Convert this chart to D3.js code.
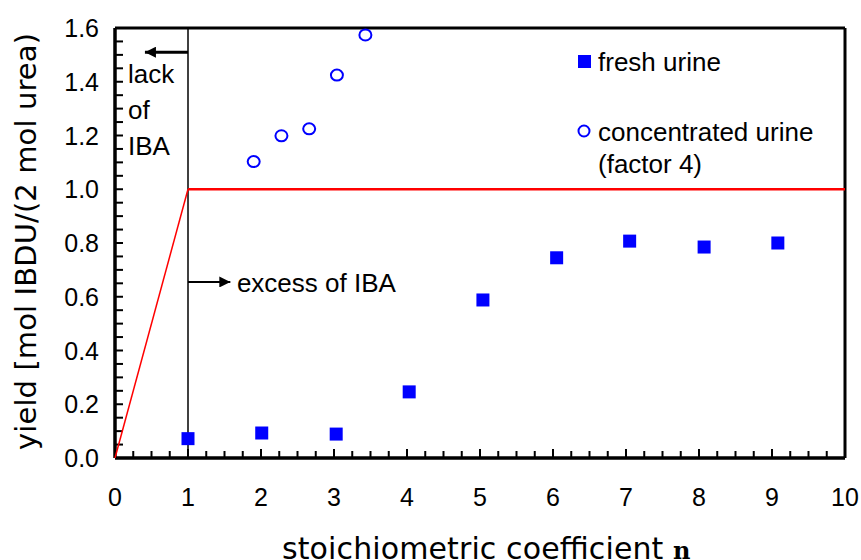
<!DOCTYPE html>
<html>
<head>
<meta charset="utf-8">
<script src="https://cdn.jsdelivr.net/npm/d3@7"></script>
<style>
  body { margin: 0; background: #fff; }
  text { font-family: "Liberation Sans", Arial, sans-serif; fill: #000; }
</style>
</head>
<body>
<div id="chart"></div>
<script>
// fresh urine (filled squares)
const freshN = [1.0, 2.01, 3.03, 4.03, 5.04, 6.05, 7.05, 8.07, 9.08];
const freshYield = [0.072, 0.093, 0.089, 0.246, 0.588, 0.745, 0.807, 0.785, 0.800];
// concentrated urine, factor 4 (open circles)
const concN = [1.9, 2.28, 2.66, 3.04, 3.43];
const concYield = [1.103, 1.199, 1.225, 1.425, 1.574];
// theoretical maximum
const theoN = [0, 1, 10];
const theoYield = [0, 1.0, 1.0];

const xTicks = [0, 1, 2, 3, 4, 5, 6, 7, 8, 9, 10];
const yTicks = [0, 0.2, 0.4, 0.6, 0.8, 1.0, 1.2, 1.4, 1.6];

const W = 861, H = 560;
const margin = { top: 28, right: 16, bottom: 102, left: 115 };
const width = W - margin.left - margin.right;
const height = H - margin.top - margin.bottom;

const svg = d3.select("#chart").append("svg")
  .attr("width", W).attr("height", H);
const g = svg.append("g").attr("transform", `translate(${margin.left},${margin.top})`);

const x = d3.scaleLinear().domain([0, 10]).range([0, width]);
const y = d3.scaleLinear().domain([0, 1.6]).range([height, 0]);

// minor / major ticks pointing inward
const xMinor = d3.range(0, 10.001, 0.25);
g.selectAll("line.xtick").data(xMinor).join("line").attr("class", "xtick")
  .attr("x1", d => x(d)).attr("x2", d => x(d))
  .attr("y1", height).attr("y2", d => Math.abs(d - Math.round(d)) < 1e-6 ? height - 9 : height - 7)
  .attr("stroke", "#000").attr("stroke-width", 2);
const yMinor = d3.range(0, 1.6001, 0.05);
g.selectAll("line.ytick").data(yMinor).join("line").attr("class", "ytick")
  .attr("y1", d => y(d)).attr("y2", d => y(d))
  .attr("x1", 0).attr("x2", 8)
  .attr("stroke", "#000").attr("stroke-width", 2);

// tick labels
g.selectAll("text.xl").data(xTicks).join("text").attr("class", "xl")
  .attr("x", d => x(d)).attr("y", height + 48)
  .attr("text-anchor", "middle").attr("font-size", 25)
  .text(d => d);
g.selectAll("text.yl").data(yTicks).join("text").attr("class", "yl")
  .attr("x", -16).attr("y", d => y(d) + 9)
  .attr("text-anchor", "end").attr("font-size", 25)
  .text(d => d3.format(".1f")(d));

// frame
g.append("line").attr("x1", 0).attr("x2", width).attr("y1", 0).attr("y2", 0)
  .attr("stroke", "#000").attr("stroke-width", 3);
g.append("line").attr("x1", width).attr("x2", width).attr("y1", 0).attr("y2", height)
  .attr("stroke", "#000").attr("stroke-width", 3);
g.append("line").attr("x1", 0).attr("x2", width).attr("y1", height).attr("y2", height)
  .attr("stroke", "#000").attr("stroke-width", 3.5);
g.append("line").attr("x1", 0).attr("x2", 0).attr("y1", 0).attr("y2", height)
  .attr("stroke", "#000").attr("stroke-width", 3.5);

// vertical line at n = 1
g.append("line").attr("x1", x(1)).attr("x2", x(1)).attr("y1", 0).attr("y2", height)
  .attr("stroke", "#000").attr("stroke-width", 1.5);

// red theoretical line
g.append("line")
  .attr("x1", x(theoN[0])).attr("y1", y(theoYield[0]))
  .attr("x2", x(theoN[1])).attr("y2", y(theoYield[1]))
  .attr("stroke", "#ff0000").attr("stroke-width", 1.5);
g.append("line")
  .attr("x1", x(theoN[1])).attr("y1", y(theoYield[1]))
  .attr("x2", x(theoN[2])).attr("y2", y(theoYield[2]))
  .attr("stroke", "#ff0000").attr("stroke-width", 2.5);

// arrows
svg.append("defs").append("marker").attr("id", "ah")
  .attr("viewBox", "0 0 10 10").attr("refX", 10).attr("refY", 5)
  .attr("markerUnits", "userSpaceOnUse")
  .attr("markerWidth", 13).attr("markerHeight", 11).attr("orient", "auto")
  .append("path").attr("d", "M0,0L10,5L0,10z").attr("fill", "#000");
g.append("line").attr("x1", x(1)).attr("x2", x(0.41)).attr("y1", y(1.51)).attr("y2", y(1.51))
  .attr("stroke", "#000").attr("stroke-width", 3).attr("marker-end", "url(#ah)");
g.append("line").attr("x1", x(1)).attr("x2", x(1.58)).attr("y1", y(0.655)).attr("y2", y(0.655))
  .attr("stroke", "#000").attr("stroke-width", 2).attr("marker-end", "url(#ah)");

// annotations
const lack = ["lack", "of", "IBA"];
g.selectAll("text.lack").data(lack).join("text").attr("class", "lack")
  .attr("x", 13).attr("y", (d, i) => 55 + i * 36)
  .attr("font-size", 26).text(d => d);
g.append("text").attr("x", x(1.67)).attr("y", y(0.655) + 10)
  .attr("font-size", 26).text("excess of IBA");

// data
const fresh = freshN.map((n, i) => ({ n, v: freshYield[i] }));
const conc = concN.map((n, i) => ({ n, v: concYield[i] }));
const sq = 13;
g.selectAll("rect.fresh").data(fresh).join("rect").attr("class", "fresh")
  .attr("x", d => x(d.n) - sq / 2).attr("y", d => y(d.v) - sq / 2)
  .attr("width", sq).attr("height", sq).attr("fill", "#0000ff");
g.selectAll("ellipse.conc").data(conc).join("ellipse").attr("class", "conc")
  .attr("cx", d => x(d.n)).attr("cy", d => y(d.v))
  .attr("rx", 6).attr("ry", 5.5)
  .attr("fill", "none").attr("stroke", "#0000ff").attr("stroke-width", 2);

// legend
const lg = svg.append("g");
lg.append("rect").attr("x", 578).attr("y", 55).attr("width", 13).attr("height", 13).attr("fill", "#0000ff");
lg.append("text").attr("x", 598).attr("y", 71).attr("font-size", 26).text("fresh urine");
lg.append("ellipse").attr("cx", 584).attr("cy", 131).attr("rx", 5.5).attr("ry", 5.5)
  .attr("fill", "none").attr("stroke", "#0000ff").attr("stroke-width", 2);
lg.append("text").attr("x", 598).attr("y", 141).attr("font-size", 26).text("concentrated urine");
lg.append("text").attr("x", 598).attr("y", 173).attr("font-size", 26).text("(factor 4)");

// axis titles
svg.append("text")
  .attr("transform", "translate(36,450) rotate(-90)")
  .style("font-family", "'DejaVu Sans', Verdana, sans-serif")
  .attr("font-size", 29).attr("textLength", 417).attr("lengthAdjust", "spacing")
  .text("yield [mol IBDU/(2 mol urea)");
const xt = svg.append("text").attr("x", 282).attr("y", 559)
  .attr("font-size", 30);
xt.append("tspan").style("font-family", "'DejaVu Sans', Verdana, sans-serif")
  .attr("textLength", 391).attr("lengthAdjust", "spacing")
  .text("stoichiometric coefficient ");
xt.append("tspan").style("font-family", "'DejaVu Serif', serif").attr("font-weight", "bold")
  .attr("font-size", 24).text("n");
</script>
</body>
</html>
